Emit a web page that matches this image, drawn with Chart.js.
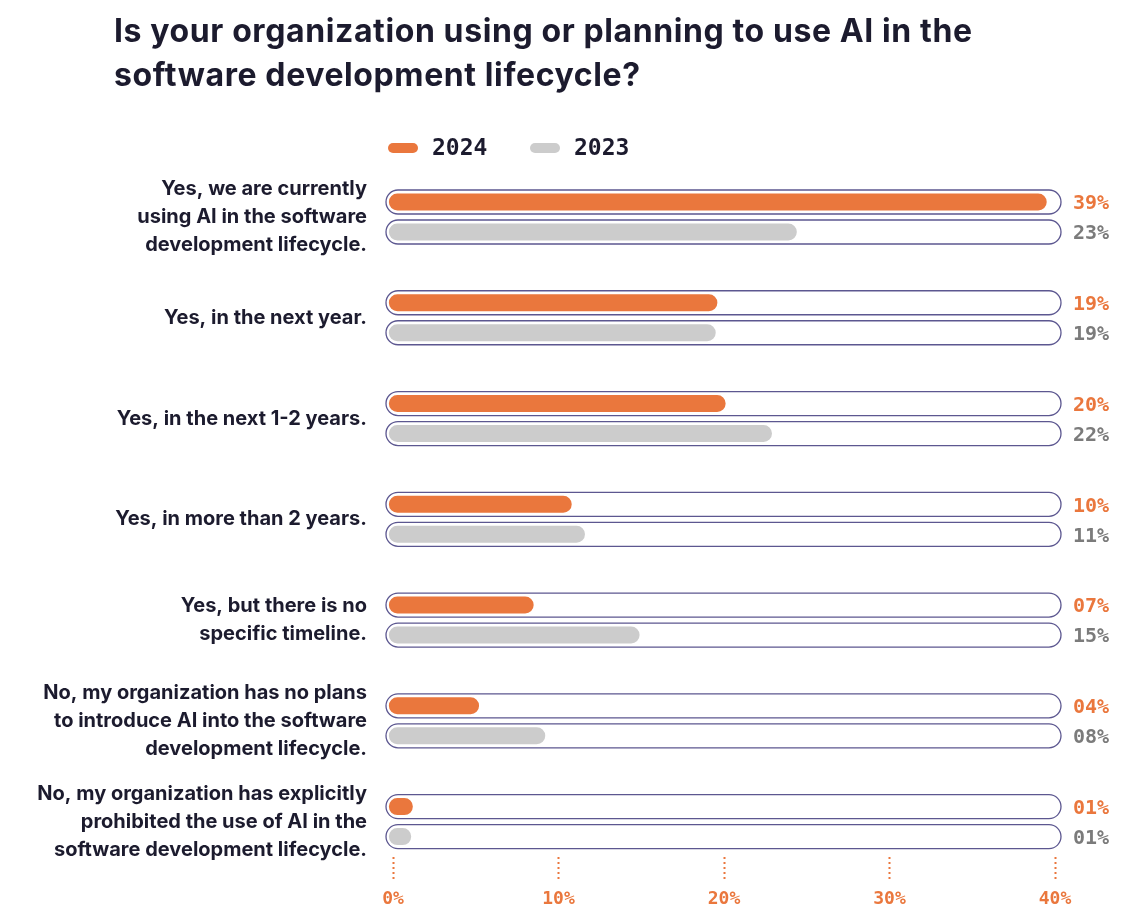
<!DOCTYPE html>
<html>
<head>
<meta charset="utf-8">
<script src="https://cdn.jsdelivr.net/npm/chart.js@4.4.1/dist/chart.umd.min.js"></script>
<style>
  body { margin: 0; background: #fff; }
  #wrap { position: relative; width: 1144px; height: 922px; }
  h1 {
    position: absolute; left: 114px; top: 9px; margin: 0; width: 1000px;
    font-family: Inter, sans-serif; font-weight: 700; font-size: 32px; line-height: 44px;
    color: #1c1b2e; letter-spacing: 0.6px;
  }
  #chart { position: absolute; left: 0; top: 0; }
</style>
</head>
<body>
<div id="wrap">
  <canvas id="chart" width="1144" height="922"></canvas>
  <h1>Is your organization using or planning to use AI in the<br>software development lifecycle?</h1>
</div>
<script>
const categories = [
  ['Yes, we are currently', 'using AI in the software', 'development lifecycle.'],
  ['Yes, in the next year.'],
  ['Yes, in the next 1-2 years.'],
  ['Yes, in more than 2 years.'],
  ['Yes, but there is no', 'specific timeline.'],
  ['No, my organization has no plans', 'to introduce AI into the software', 'development lifecycle.'],
  ['No, my organization has explicitly', 'prohibited the use of AI in the', 'software development lifecycle.']
];
// bar lengths as drawn in the picture (percent)
const values2024 = [39.5, 19.6, 20.1, 10.8, 8.5, 5.2, 1.2];
const values2023 = [24.4, 19.5, 22.9, 11.6, 14.9, 9.2, 1.1];
// printed value labels
const labels2024 = ['39%', '19%', '20%', '10%', '07%', '04%', '01%'];
const labels2023 = ['23%', '19%', '22%', '11%', '15%', '08%', '01%'];
const seriesNames = ['2024', '2023'];
const xTicks = [0, 10, 20, 30, 40];

const orange = '#ea773d';
const grey = '#cccccc';
const greyText = '#7b7b7b';
const dark = '#1c1b2e';
const trackColor = '#5c5790';
const mono = '"DejaVu Sans Mono", monospace';

const trackPlugin = {
  id: 'tracks',
  beforeDatasetsDraw(chart) {
    const { ctx } = chart;
    const x = chart.scales.x;
    const left = x.getPixelForValue(0) - 7;
    const right = x.getPixelForValue(40) + 6;
    ctx.save();
    ctx.strokeStyle = trackColor;
    ctx.lineWidth = 1.3;
    chart.data.datasets.forEach((ds, i) => {
      chart.getDatasetMeta(i).data.forEach((bar) => {
        ctx.beginPath();
        ctx.roundRect(left, bar.y - 12, right - left, 24, 12);
        ctx.stroke();
      });
    });
    ctx.restore();
  },
  afterDatasetsDraw(chart) {
    const { ctx } = chart;
    const x = chart.scales.x;
    const tx = x.getPixelForValue(40) + 18;
    ctx.save();
    ctx.font = 'bold 20px ' + mono;
    ctx.textBaseline = 'middle';
    ctx.textAlign = 'left';
    const texts = [labels2024, labels2023];
    const colors = [orange, greyText];
    chart.data.datasets.forEach((ds, i) => {
      ctx.fillStyle = colors[i];
      chart.getDatasetMeta(i).data.forEach((bar, j) => {
        ctx.fillText(texts[i][j], tx, bar.y + 2);
      });
    });
    ctx.restore();
  },
  afterDraw(chart) {
    const { ctx } = chart;
    const startX = chart.scales.x.getPixelForValue(0) - 5;
    const y = 148;
    const swatches = [orange, grey];
    ctx.save();
    ctx.font = 'bold 23px ' + mono;
    ctx.textBaseline = 'middle';
    let cx = startX;
    seriesNames.forEach((name, i) => {
      ctx.fillStyle = swatches[i];
      ctx.beginPath();
      ctx.roundRect(cx, y - 5, 30, 10, 5);
      ctx.fill();
      ctx.fillStyle = dark;
      ctx.fillText(name, cx + 44, y + 1);
      cx += 142;
    });
    ctx.restore();
  }
};

new Chart(document.getElementById('chart'), {
  type: 'bar',
  data: {
    labels: categories,
    datasets: [
      {
        label: seriesNames[0],
        data: values2024,
        backgroundColor: orange,
        base: -0.25,
        clip: false,
        borderRadius: 9,
        borderSkipped: false,
        categoryPercentage: 0.5955,
        barPercentage: 0.567
      },
      {
        label: seriesNames[1],
        data: values2023,
        backgroundColor: grey,
        base: -0.25,
        clip: false,
        borderRadius: 9,
        borderSkipped: false,
        categoryPercentage: 0.5955,
        barPercentage: 0.567
      }
    ]
  },
  options: {
    indexAxis: 'y',
    responsive: false,
    animation: false,
    layout: { padding: { left: 0, right: 89, top: 166.6, bottom: 50 } },
    plugins: {
      legend: { display: false },
      tooltip: { enabled: false }
    },
    scales: {
      x: {
        position: { y: 6.353 },
        min: 0,
        max: 40,
        afterBuildTicks: (scale) => { scale.ticks = xTicks.map((v) => ({ value: v })); },
        border: { display: false },
        grid: {
          drawOnChartArea: false,
          drawTicks: true,
          tickLength: 23,
          tickColor: orange,
          tickWidth: 2,
          tickBorderDash: [2, 3]
        },
        ticks: {
          color: orange,
          padding: 8,
          font: { family: mono, size: 18, weight: 'bold' },
          callback: (v) => v + '%'
        }
      },
      y: {
        afterFit: (scale) => {
          scale.width = 393;
          scale.paddingTop = 0;
          scale.paddingBottom = 0;
        },
        grid: { display: false, drawTicks: false },
        border: { display: false },
        ticks: {
          color: dark,
          padding: 26,
          font: { family: 'Inter, sans-serif', size: 20, weight: '700', lineHeight: 1.4 }
        }
      }
    }
  },
  plugins: [trackPlugin]
});
</script>
</body>
</html>
